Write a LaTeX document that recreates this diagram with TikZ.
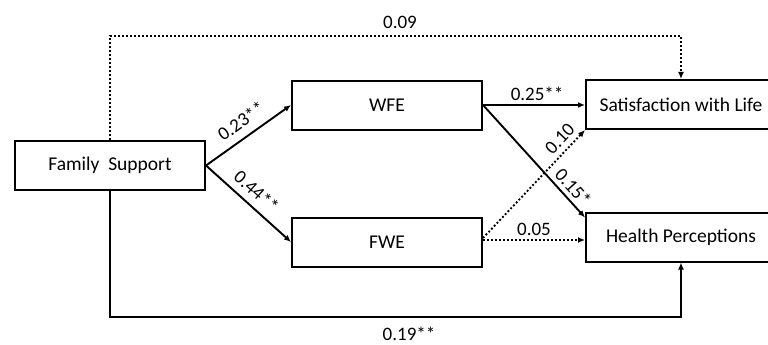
\documentclass[tikz,border=0pt]{standalone}
\usepackage{fontspec}
\setmainfont{Carlito}
\usetikzlibrary{arrows.meta}
\begin{document}
\begin{tikzpicture}[x=1pt,y=-1pt,
  box/.style={draw, line width=2pt, minimum width=190pt, minimum height=49pt, inner sep=0pt, font=\fontsize{19.5}{23}\selectfont},
  arr/.style={line width=1.9pt, -{Latex[length=7pt,width=6pt]}},
  dotarr/.style={arr, dash pattern=on 1.9pt off 2.1pt},
  lbl/.style={font=\fontsize{19}{23}\selectfont, inner sep=1pt}]
\clip (0,0) rectangle (768,345);
\node[box] (FS) at (110,165.5) {Family\ \ Support};
\node[box] (WFE) at (387,105) {WFE};
\node[box] (FWE) at (387,242) {FWE};
\node[box] (SwL) at (681,104.5) {Satisfaction with Life};
\node[box] (HP) at (681,237) {Health Perceptions};
\coordinate (top) at (0,36);
\coordinate (bot) at (0,317);
\coordinate (fa) at ([yshift=4pt]FWE.east);
\coordinate (fb) at ([yshift=2pt]FWE.east);
\coordinate (hpin) at ([yshift=-6pt]HP.north west);
% direct paths
\draw[dotarr] (FS.north) |- (top -| SwL.north) -- (SwL.north);
\node[lbl] (l09) at (400,22) {0.09};
\draw[arr] (FS.south) |- (bot -| HP.south) -- (HP.south);
\node[lbl] (l19) at (409,334) {0.19**};
% to mediators
\draw[arr] (FS.east) -- node[lbl, above=7pt, sloped, pos=0.52] {0.23**} (WFE.west);
\draw[arr] (FS.east) -- node[lbl, above=6pt, sloped, pos=0.48] {0.44**} (FWE.west);
% mediators to outcomes
\draw[arr] (WFE.east) -- node[lbl, above=2pt, pos=0.53] {0.25**} (SwL.west |- WFE.east);
\draw[arr] (WFE.east) -- node[lbl, above=3pt, sloped, pos=0.8] {0.15*} (hpin);
\draw[dotarr] (fa) -- node[lbl, above=4pt, sloped, pos=0.84] {0.10} (SwL.south west);
\draw[dotarr] (fb) -- node[lbl, above=2pt, pos=0.5] {0.05} (HP.west |- fb);
\end{tikzpicture}
\end{document}
